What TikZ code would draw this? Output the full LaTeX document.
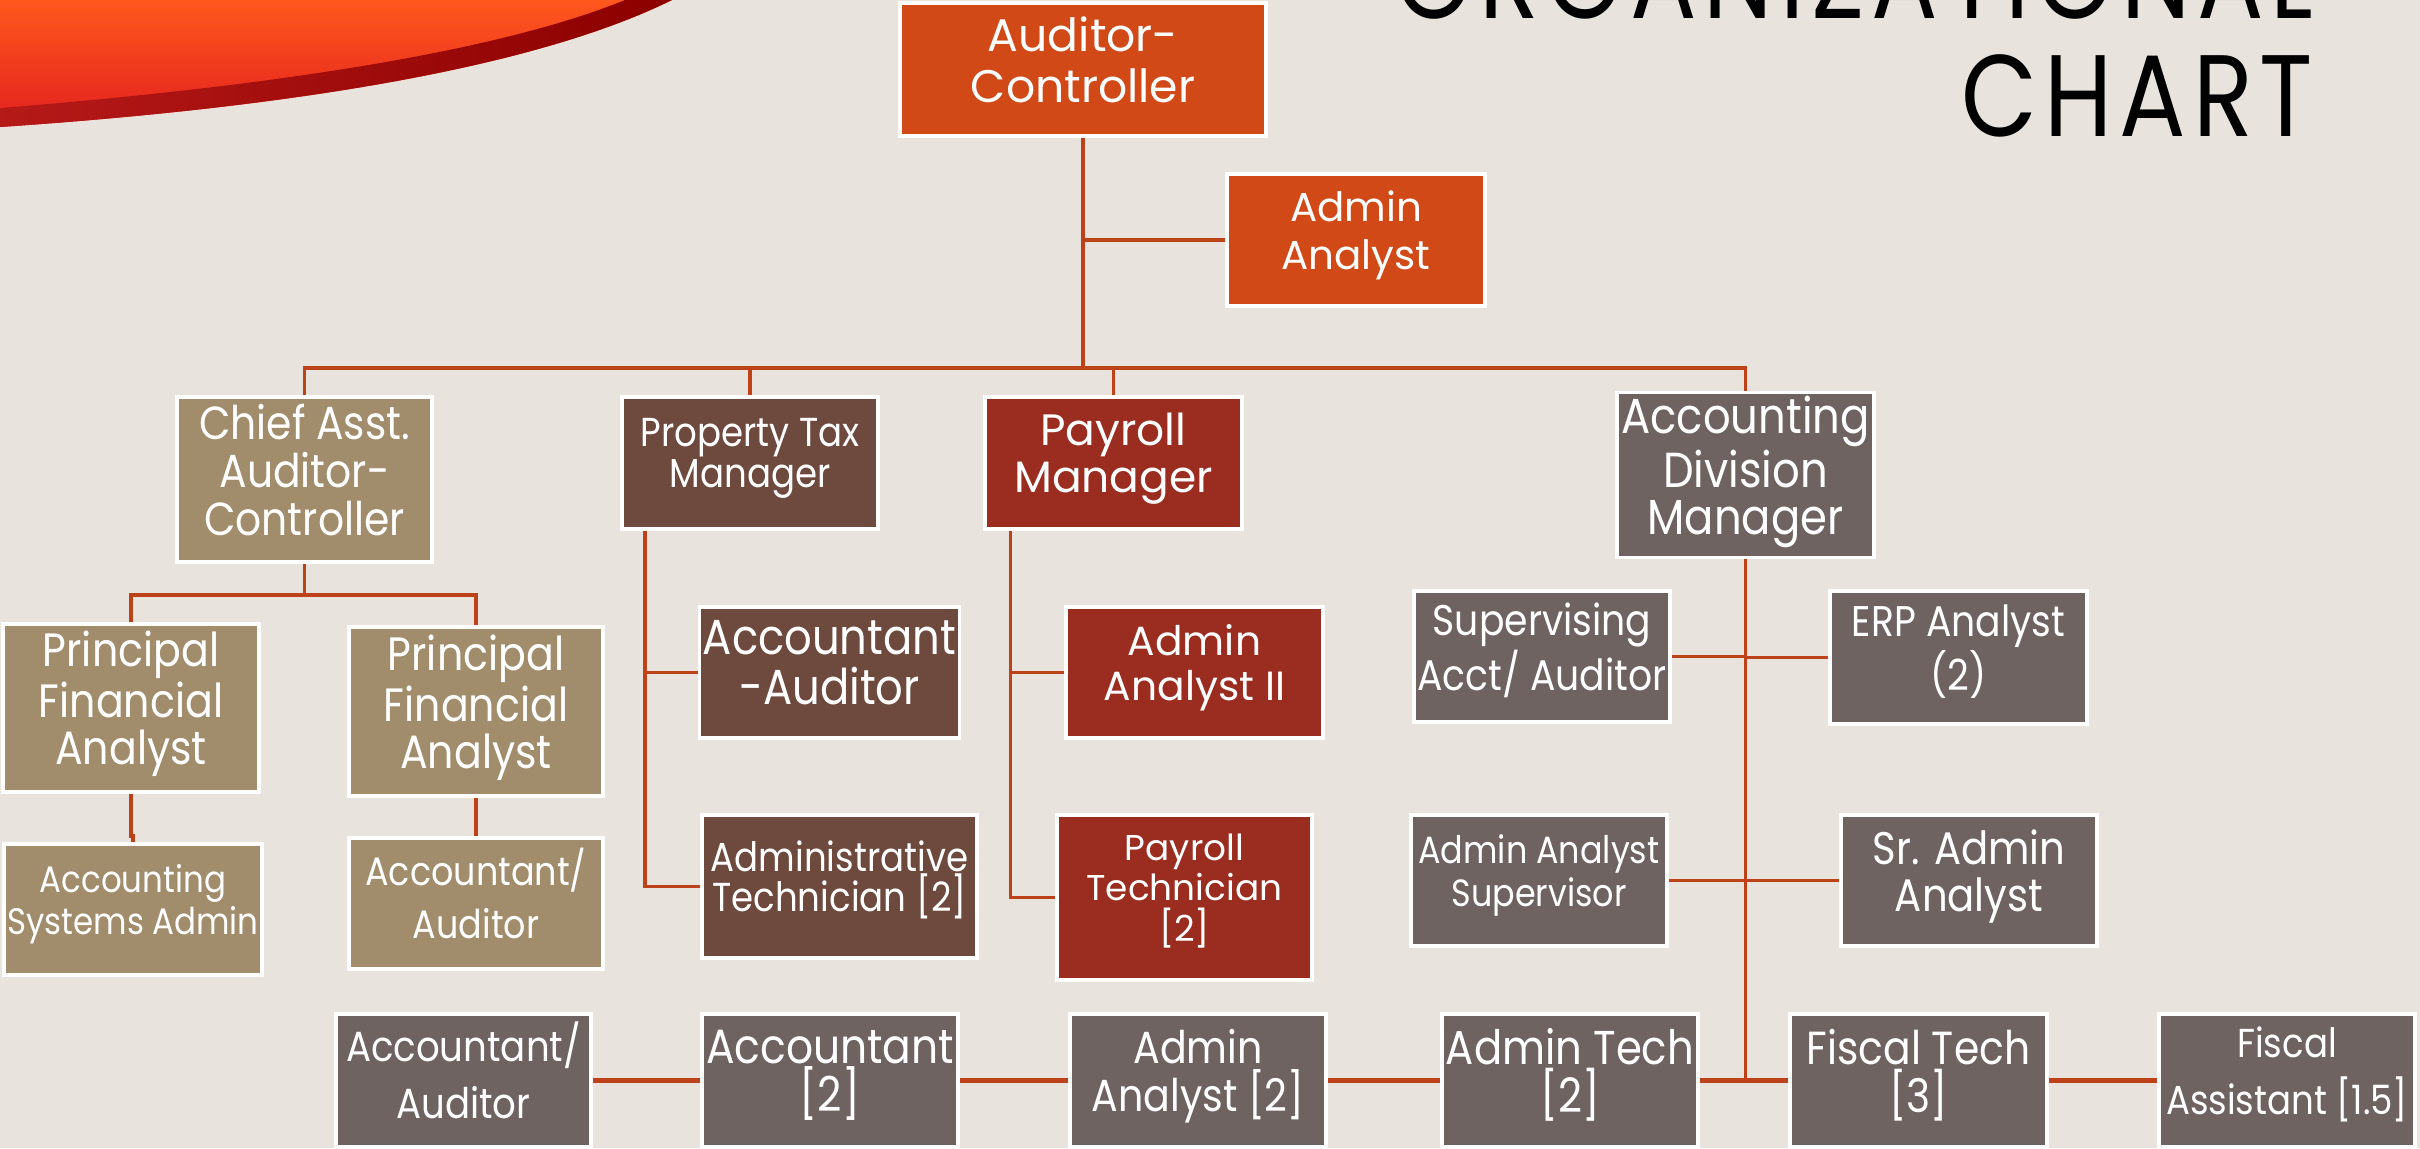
\documentclass[tikz,border=0pt]{standalone}
\usepackage{fontspec}
\newfontfamily\gothicfont{Poppins}
\newfontfamily\twcenfont{Poppins}[FakeStretch=0.88]
\newfontfamily\titlefont{Poppins}[FakeStretch=0.85, LetterSpace=6]
\usetikzlibrary{positioning, calc}

\definecolor{bgbeige}{RGB}{232, 228, 221}
\definecolor{acorange}{RGB}{210, 73, 24}
\definecolor{tan1}{RGB}{161, 140, 107}
\definecolor{brown1}{RGB}{110, 74, 62}
\definecolor{payred}{RGB}{155, 45, 32}
\definecolor{grey1}{RGB}{111, 99, 98}
\definecolor{linkred}{RGB}{190, 66, 25}
\definecolor{swooshorange}{RGB}{255, 88, 30}
\definecolor{swooshred}{RGB}{226, 32, 30}
\definecolor{swooshdark}{RGB}{140, 0, 0}

\tikzset{
  orgbox/.style={draw=white, line width=1pt, text=white, align=center, inner sep=1pt, text depth=0.2cm},
  dims/.style 2 args={minimum width=#1cm, minimum height=#2cm},
  cg/.style 2 args={font=\gothicfont\fontsize{#1}{#2}\selectfont},
  tw/.style 2 args={font=\twcenfont\fontsize{#1}{#2}\selectfont},
  topbox/.style={orgbox, fill=acorange},
  tanbox/.style={orgbox, fill=tan1},
  taxbox/.style={orgbox, fill=brown1},
  paybox/.style={orgbox, fill=payred},
  acctbox/.style={orgbox, fill=grey1},
  link/.style={draw=linkred, line width=1pt},
  rowlink/.style={draw=linkred, line width=1.6pt}
}

\begin{document}
\begin{tikzpicture}
  \useasboundingbox (0, 0) rectangle (24.2, -11.48);
  \fill[bgbeige] (0, 0) rectangle (24.2, -11.48);
  \clip (0, 0) rectangle (24.2, -11.48);

  % Swoosh
  \shade[top color=swooshorange, bottom color=swooshred] (0, 0) -- (6.72, 0) .. controls (5.2, -0.75) and (2.5, -1.1) .. (0, -1.27) -- cycle;
  \shade[left color=swooshred!80!black, right color=swooshdark] (6.72, 0) .. controls (5.2, -0.75) and (2.5, -1.1) .. (0, -1.27) -- (0, -1.08) .. controls (2.5, -0.88) and (4.9, -0.55) .. (6.25, 0) -- cycle;

  % Title
  \node[anchor=base east, inner sep=0pt, font=\titlefont\fontsize{33}{40}\selectfont] (orgtitle) at (23.14, -0.18) {ORGANIZATIONAL};
  \node[anchor=base east, inner sep=0pt, font=\titlefont\fontsize{33}{40}\selectfont] (charttitle) at (23.14, -1.36) {CHART};

  % Top level
  \node[topbox, dims={3.66}{1.33}, cg={13}{14.5}] (auditor) at (10.83, -0.695) {Auditor-\\Controller};
  \node[topbox, dims={2.58}{1.32}, cg={11.5}{13.5}] (admin) at (13.56, -2.40) {Admin\\Analyst};

  % Managers
  \node[tanbox, dims={2.55}{1.65}, tw={13.2}{13.7}] (chief) at (3.045, -4.795) {Chief Asst.\\Auditor-\\Controller};
  \node[taxbox, dims={2.56}{1.32}, tw={11.5}{11.8}] (proptax) at (7.50, -4.63) {Property Tax\\Manager};
  \node[paybox, dims={2.57}{1.32}, cg={12.5}{13.5}] (payroll) at (11.135, -4.63) {Payroll\\Manager};
  \node[acctbox, dims={2.57}{1.56}, tw={14}{13.2}] (acctdiv) at (17.455, -4.75) {Accounting\\Division\\Manager};

  % Chief Asst. branch
  \node[tanbox, dims={2.56}{1.68}, tw={13.3}{13.4}] (pfa1) at (1.31, -7.08) {Principal\\Financial\\Analyst};
  \node[tanbox, dims={2.54}{1.69}, tw={13.3}{13.4}] (pfa2) at (4.76, -7.115) {Principal\\Financial\\Analyst};
  \node[tanbox, dims={2.56}{1.31}, tw={10.5}{10.5}] (sysadmin) at (1.33, -9.095) {Accounting\\Systems Admin};
  \node[tanbox, dims={2.54}{1.31}, tw={11.3}{15}] (acctaud) at (4.76, -9.035) {Accountant/\\Auditor};

  % Property Tax branch
  \node[taxbox, dims={2.55}{1.31}, tw={14}{14}] (ptaud) at (8.295, -6.725) {Accountant\\-Auditor};
  \node[taxbox, dims={2.75}{1.43}, tw={11.5}{11.4}] (pttech) at (8.395, -8.865) {Administrative\\Technician [2]};

  % Payroll branch
  \node[paybox, dims={2.57}{1.31}, cg={11.6}{13}] (payaa) at (11.945, -6.725) {Admin\\Analyst II};
  \node[paybox, dims={2.55}{1.65}, cg={10.2}{11.6}] (paytech) at (11.845, -8.975) {Payroll\\Technician\\{[2]}};

  % Accounting branch
  \node[acctbox, dims={2.56}{1.31}, tw={12.2}{11}] (supacct) at (15.42, -6.565) {Supervising\\Acct/ Auditor};
  \node[acctbox, dims={2.57}{1.33}, tw={12.2}{13}] (erp) at (19.585, -6.575) {ERP Analyst\\(2)};
  \node[acctbox, dims={2.56}{1.31}, tw={10.8}{11}] (aasup) at (15.39, -8.805) {Admin Analyst\\Supervisor};
  \node[acctbox, dims={2.56}{1.31}, tw={13}{13.6}] (sraa) at (19.69, -8.805) {Sr. Admin\\Analyst};

  % Bottom row
  \node[acctbox, dims={2.55}{1.33}, tw={12}{16.2}] (r1) at (4.635, -10.805) {Accountant/\\Auditor};
  \node[acctbox, dims={2.56}{1.33}, tw={13.7}{13.6}] (r2) at (8.30, -10.805) {Accountant\\{[2]}};
  \node[acctbox, dims={2.56}{1.33}, tw={12.8}{13.6}] (r3) at (11.98, -10.805) {Admin\\Analyst [2]};
  \node[acctbox, dims={2.56}{1.33}, tw={13.5}{13.6}] (r4) at (15.70, -10.805) {Admin Tech\\{[2]}};
  \node[acctbox, dims={2.57}{1.33}, tw={13.2}{13.6}] (r5) at (19.185, -10.805) {Fiscal Tech\\{[3]}};
  \node[acctbox, dims={2.56}{1.33}, tw={11.5}{16}] (r6) at (22.87, -10.805) {Fiscal\\Assistant [1.5]};

  % Connectors, top
  \draw[link] (auditor.south) -- ++(0, -2.30) coordinate (topbus);
  \draw[link] (admin.west) -- (admin.west -| auditor.south);
  \draw[link] (chief.north) |- (topbus) -| (acctdiv.north);
  \draw[link] (proptax.north) -- (proptax.north |- topbus);
  \draw[link] (payroll.north) -- (payroll.north |- topbus);

  % Connectors, Chief Asst.
  \draw[link] (chief.south) -- ++(0, -0.31) coordinate (chiefbus);
  \draw[link] (pfa1.north) |- (chiefbus) -| (pfa2.north);
  \draw[link] (pfa1.south) -- ++(0, -0.42) -| (sysadmin.north);
  \draw[link] (pfa2.south) -- (acctaud.north);

  % Connectors, Property Tax and Payroll
  \coordinate (taxtrunk) at ([xshift=0.25cm]proptax.south west);
  \draw[link] (taxtrunk) |- (pttech.west);
  \draw[link] (ptaud.west) -- (ptaud.west -| taxtrunk);
  \coordinate (paytrunk) at ([xshift=0.27cm]payroll.south west);
  \draw[link] (paytrunk) |- (paytech.west);
  \draw[link] (payaa.west) -- (payaa.west -| paytrunk);

  % Connectors, Accounting
  \draw[link] (acctdiv.south) -- (acctdiv.south |- r4.east);
  \foreach \n in {supacct, aasup}
    \draw[link] (\n.east) -- (\n.east -| acctdiv.south);
  \foreach \n in {erp, sraa}
    \draw[link] (\n.west) -- (\n.west -| acctdiv.south);
  \foreach \a/\b in {r1/r2, r2/r3, r3/r4, r4/r5, r5/r6}
    \draw[rowlink] (\a.east) -- (\b.west);
\end{tikzpicture}
\end{document}
